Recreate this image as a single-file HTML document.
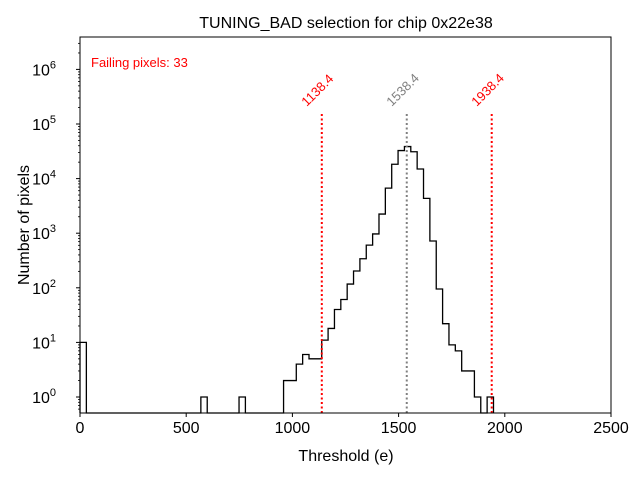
<!DOCTYPE html>
<html><head><meta charset="utf-8"><style>
body{margin:0;background:#fff}
svg text{font-family:"Liberation Sans","DejaVu Sans",sans-serif}
</style></head><body>
<svg id="chart" width="640" height="480" viewBox="0 0 640 480" xmlns="http://www.w3.org/2000/svg">
<rect width="640" height="480" fill="#fff"/>
<text x="346" y="28" font-size="16" text-anchor="middle">TUNING_BAD selection for chip 0x22e38</text>
<text x="91" y="67" font-size="13" fill="red">Failing pixels: 33</text>
<text x="346" y="461" font-size="16" text-anchor="middle">Threshold (e)</text>
<text transform="translate(29,225) rotate(-90)" font-size="16" text-anchor="middle">Number of pixels</text>
<g id="marks"></g>
<g id="axes"></g>
</svg>
<script>
const binWidth = 29.95;
const binIndex = [0,19,25,32,33,34,35,36,37,38,39,40,41,42,43,44,45,46,47,48,49,50,51,52,53,54,55,56,57,58,59,60,61,62,64];
const counts = [10,1,1,2,2,4,6,5,5,11,18,40,61,117,203,340,605,970,2240,6700,18300,32600,38600,31000,15000,4350,720,95,22,9,7,3,3,1,1];
const xTicks = [0,500,1000,1500,2000,2500];
const yTickExps = [0,1,2,3,4,5,6];
const cutLines = [1138.4,1538.4,1938.4];
const cutLabels = ["1138.4","1538.4","1938.4"];
const cutColors = ["red","grey","red"];

const L=80, R=611, T=37, B=413;
const X = v => L + v*(R-L)/2500;
const Y = v => 397 - Math.log10(v)*54.6;
const NS="http://www.w3.org/2000/svg";
function mk(tag, attrs, parent){const e=document.createElementNS(NS,tag);for(const k in attrs)e.setAttribute(k,attrs[k]);parent.appendChild(e);return e;}
const marks=document.getElementById('marks'), axes=document.getElementById('axes');

const map={};binIndex.forEach((b,i)=>map[b]=counts[i]);
const maxBin=Math.max(...binIndex);
let d="";let prevY=B;
for(let b=0;b<=maxBin+1;b++){
  const v=map[b];const y=v?Y(v):B;const x=X(b*binWidth);
  if(b===0){d+=`M${x},${B}L${x},${y}`;}
  else{d+=`L${x},${prevY}L${x},${y}`;}
  prevY=y;
}
const path=mk('path',{d:d,fill:'none',stroke:'#000','stroke-width':1.3},marks);



cutLines.forEach((c,i)=>{
  const x=X(c);
  const ln=mk('line',{x1:x,x2:x,y1:114,y2:B,stroke:cutColors[i],'stroke-width':2,'stroke-dasharray':'2,2.5'},marks);
  
  
  const t=mk('text',{transform:`translate(${x-15},${107}) rotate(-45)`,'font-size':13,fill:cutColors[i]},marks);
  t.textContent=cutLabels[i];
  
  
});

const frame=mk('rect',{x:L,y:T,width:R-L,height:B-T,fill:'none',stroke:'#000','stroke-width':1},axes);



xTicks.forEach(v=>{
  const x=X(v);
  mk('line',{x1:x,x2:x,y1:B,y2:B+4,stroke:'#000'},axes);
  const t=mk('text',{x:x,y:B+20,'font-size':16,'text-anchor':'middle'},axes);
  t.textContent=v;
  
  
});
yTickExps.forEach(e=>{
  const y=Y(Math.pow(10,e));
  mk('line',{x1:L-4,x2:L,y1:y,y2:y,stroke:'#000'},axes);
  for(let m=2;m<=9;m++){const ym=Y(m*Math.pow(10,e));if(ym>T&&ym<B)mk('line',{x1:L-2,x2:L,y1:ym,y2:ym,stroke:'#000','stroke-width':0.8},axes);}
  const t=mk('text',{x:L-24,y:y+6,'font-size':16,'text-anchor':'end'},axes);
  t.textContent='10';
  const s=mk('tspan',{dy:-7,'font-size':11},t);
  s.textContent=e;
  
  
});
[0.6,0.7,0.8,0.9].forEach(m=>{mk('line',{x1:L-2,x2:L,y1:Y(m),y2:Y(m),stroke:'#000','stroke-width':0.8},axes);});
</script>
</body></html>
